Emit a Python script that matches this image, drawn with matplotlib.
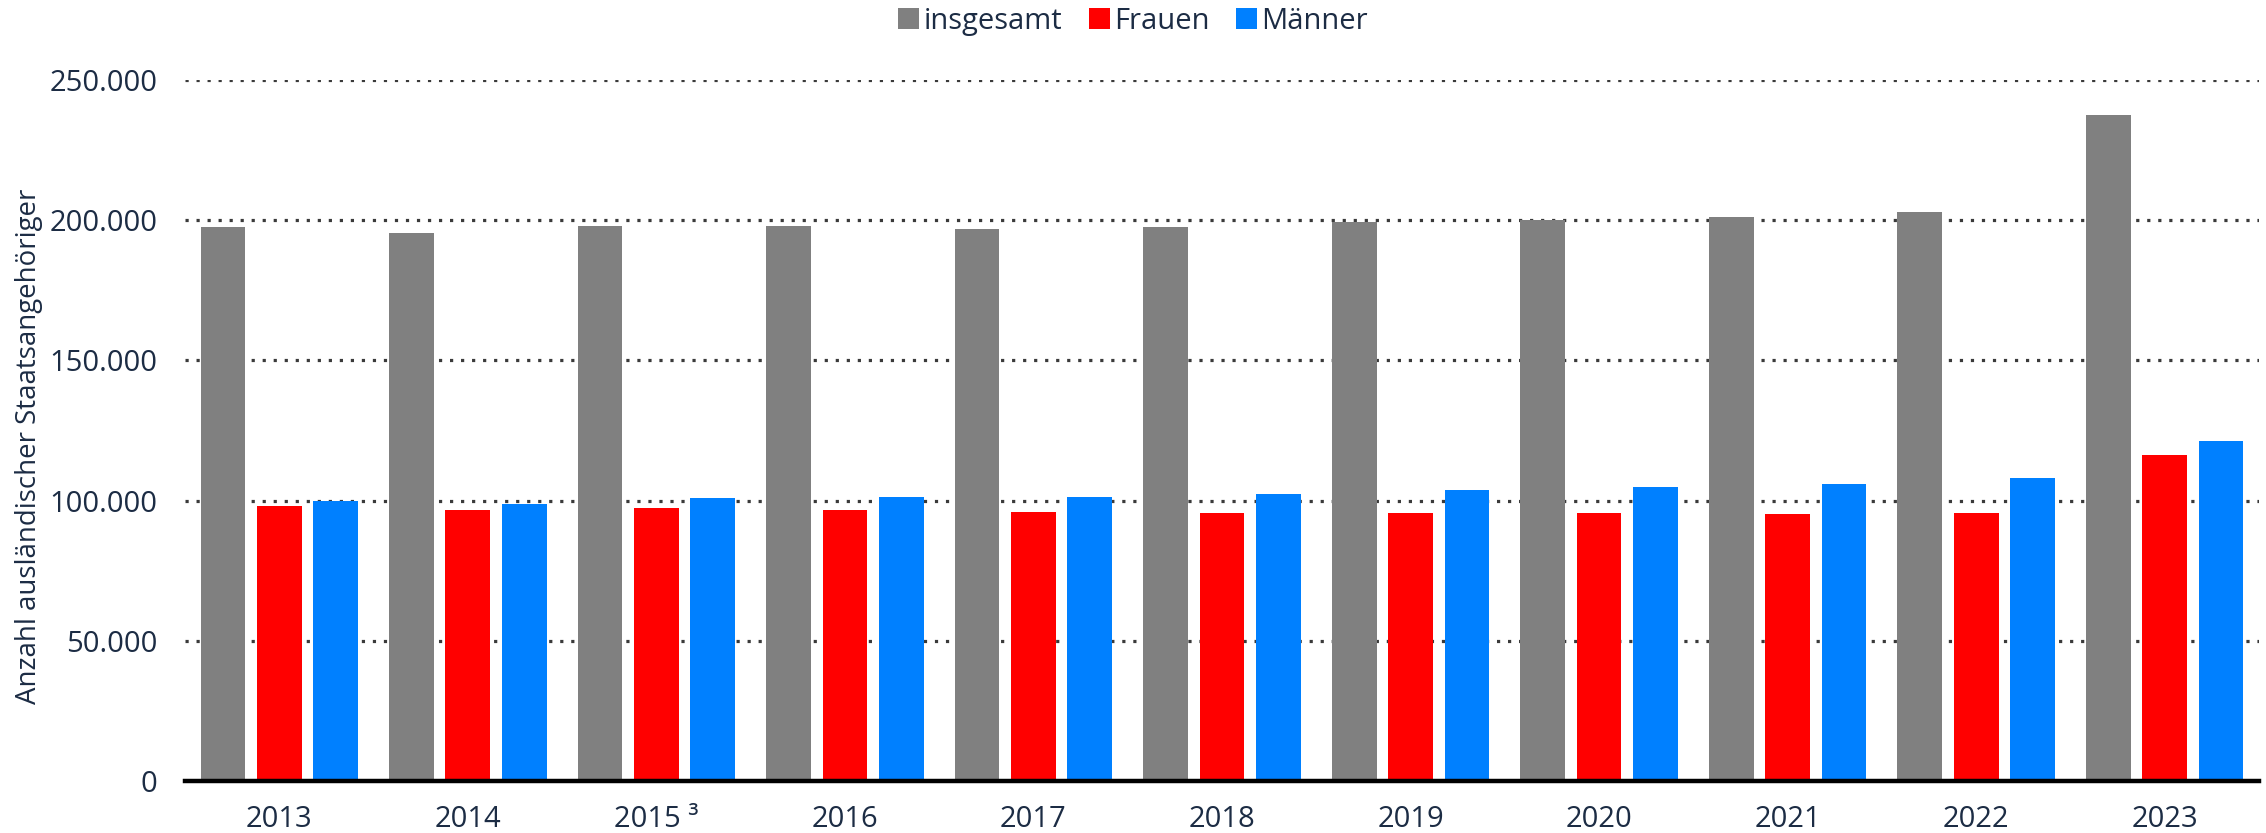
import numpy as np
import matplotlib
matplotlib.use("Agg")
import matplotlib.pyplot as plt
from matplotlib.ticker import FuncFormatter

# Daten
jahre = ["2013", "2014", "2015 ³", "2016", "2017", "2018", "2019", "2020", "2021", "2022", "2023"]
insgesamt = [197500, 195300, 197900, 198000, 196700, 197500, 199400, 200100, 201000, 203100, 237400]
frauen = [98200, 96800, 97200, 96800, 95800, 95500, 95700, 95600, 95200, 95500, 116200]
maenner = [99700, 98900, 101100, 101400, 101200, 102300, 103900, 104900, 106000, 108100, 121400]

textfarbe = "#1c2c44"
plt.rcParams['font.family'] = ['Open Sans', 'DejaVu Sans']

fig = plt.figure(figsize=(22.66, 8.33), dpi=100)
ax = fig.add_axes([185 / 2266, 1 - 781 / 833, 2074 / 2266, 701 / 833])

x = np.arange(len(jahre))
breite = 0.2375
abstand = 0.299

ax.bar(x - abstand, insgesamt, breite, color="#808080", label="insgesamt", zorder=3)
ax.bar(x, frauen, breite, color="#ff0000", label="Frauen", zorder=3)
ax.bar(x + abstand, maenner, breite, color="#0080ff", label="Männer", zorder=3)

ax.set_xlim(-0.5, 10.5)
ax.set_ylim(0, 250000)
ax.set_yticks(np.arange(0, 250001, 50000))
ax.yaxis.set_major_formatter(FuncFormatter(lambda v, p: f"{int(v):,}".replace(",", ".")))
ax.set_xticks(x)
ax.set_xticklabels(jahre)

# gepunktete Gitterlinien
ax.yaxis.grid(True, color="#3a3a3a", linewidth=2.3, linestyle=(0, (1, 2.45)), zorder=1)
ax.set_axisbelow(True)

for s in ["top", "right", "left"]:
    ax.spines[s].set_visible(False)
ax.spines["bottom"].set_color("black")
ax.spines["bottom"].set_linewidth(3.2)
ax.spines["bottom"].set_zorder(4)

ax.tick_params(axis="both", length=0, labelsize=21, labelcolor=textfarbe)
ax.tick_params(axis="y", pad=20)
ax.tick_params(axis="x", pad=17)

# Achsentitel als Figurentext
fig.text(29 / 2266, 1 - 446 / 833, "Anzahl ausländischer Staatsangehöriger", rotation=90,
         ha="center", va="center", fontsize=19.9, color=textfarbe,
         family=['Liberation Sans Narrow', 'Open Sans'])

leg = fig.legend(loc="center", bbox_to_anchor=(0.5, 1 - 21.5 / 833), ncol=3, frameon=False,
                 fontsize=21, handlelength=0.72, handleheight=0.72, handletextpad=0.15,
                 columnspacing=0.9, labelcolor=textfarbe)

fig.savefig("out.png", dpi=100)
